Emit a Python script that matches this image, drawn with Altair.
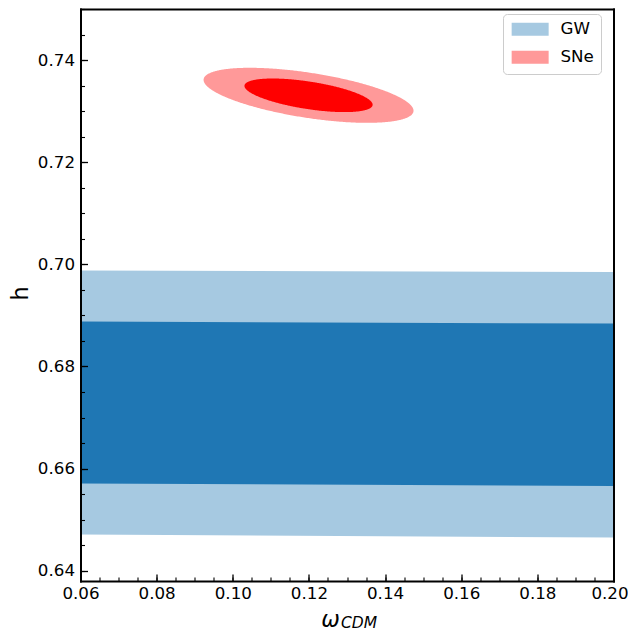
import numpy as np
import pandas as pd
import altair as alt

# ---------------- data ----------------
x_domain = [0.06, 0.20]
y_domain = [0.638, 0.750]
x_major = [0.06, 0.08, 0.10, 0.12, 0.14, 0.16, 0.18, 0.20]
y_major = [0.64, 0.66, 0.68, 0.70, 0.72, 0.74]
x_minor = [round(0.06 + 0.005 * i, 3) for i in range(29)]
y_minor = [round(0.64 + 0.005 * i, 3) for i in range(23)]

series = ["GW", "SNe"]

# GW: nearly horizontal 68% / 95% bands (values at both edges of the x range)
gw_omega = [0.06, 0.20]
gw_h_95_lo = [0.6471, 0.6465]
gw_h_95_hi = [0.6988, 0.6985]
gw_h_68_lo = [0.6571, 0.6566]
gw_h_68_hi = [0.6888, 0.6884]

# SNe: Gaussian constraint (mean, sigmas, correlation) -> 68% / 95% ellipses
sne_mean = [0.1199, 0.7331]
sne_sigma = [0.0111, 0.00217]
sne_rho = -0.56
dchi2_levels = [2.30, 6.17]   # 68%, 95% for 2 parameters

light_colors = ["#a6c9e1", "#ff9999"]
dark_colors = ["#1f77b4", "#ff0000"]

W, H = 533, 572
FONT = "DejaVu Sans"


def ellipse_band(k):
    t = np.linspace(0, np.pi, 241)
    u = np.sqrt(k) * np.cos(t)
    root = np.sqrt(np.clip((1 - sne_rho ** 2) * (k - u ** 2), 0, None))
    w_lo = sne_rho * u - root
    w_hi = sne_rho * u + root
    return pd.DataFrame({
        "omega": sne_mean[0] + u * sne_sigma[0],
        "h_lo": sne_mean[1] + w_lo * sne_sigma[1],
        "h_hi": sne_mean[1] + w_hi * sne_sigma[1],
        "series": "SNe",
    })


gw95 = pd.DataFrame({"omega": gw_omega, "h_lo": gw_h_95_lo, "h_hi": gw_h_95_hi, "series": "GW"})
gw68 = pd.DataFrame({"omega": gw_omega, "h_lo": gw_h_68_lo, "h_hi": gw_h_68_hi, "series": "GW"})
sne68 = ellipse_band(dchi2_levels[0])
sne95 = ellipse_band(dchi2_levels[1])

xs = alt.Scale(domain=x_domain, nice=False, zero=False)
ys = alt.Scale(domain=y_domain, nice=False, zero=False)

legend = alt.Legend(
    title=None, orient="none", legendX=422.5, legendY=5, direction="vertical",
    symbolType="M-2.846,-1H2.846V1H-2.846Z", symbolSize=169, symbolStrokeWidth=0,
    symbolOpacity=1, symbolOffset=11.8, labelOffset=22, labelFontSize=16.7,
    labelFont=FONT, labelColor="black", rowPadding=10, padding=7,
    strokeColor="#cccccc", fillColor="rgba(255,255,255,0.8)", cornerRadius=4,
)
color = alt.Color("series:N", scale=alt.Scale(domain=series, range=light_colors), legend=legend)

major_x = alt.Axis(orient="bottom", values=x_major, format=".2f", tickSize=7, tickWidth=1.3,
                   tickColor="black", offset=-7, domain=False, grid=False, labelPadding=4,
                   labelFlush=False, labelOverlap=False, labelFontSize=16.7, labelFont=FONT,
                   labelColor="black",
                   labelOffset={"condition": {"test": "datum.value > 0.199", "value": -4}, "value": 0},
                   title="ω", titleFont=FONT, titleFontSize=22.2,
                   titleFontStyle="italic", titleFontWeight="normal", titleColor="black",
                   titleX=249.5, titleY=52, titleAlign="center", titleBaseline="alphabetic",
                   zindex=1)
major_y = alt.Axis(orient="left", values=y_major, format=".2f", tickSize=7, tickWidth=1.3,
                   tickColor="black", offset=-7, domain=False, grid=False, labelPadding=6,
                   labelFlush=False, labelOverlap=False, labelFontSize=16.7, labelFont=FONT,
                   labelColor="black", title="h", titleFont=FONT, titleFontSize=22.2,
                   titleFontWeight="normal", titleColor="black", titleAngle=270,
                   titleX=-67.5, titleY=284, titleAlign="center", titleBaseline="middle",
                   zindex=1)
minor_x = alt.Axis(orient="bottom", values=x_minor, tickSize=4, tickWidth=1.1, tickColor="black",
                   offset=-4, labels=False, domain=False, grid=False, title=None, zindex=1)
minor_y = alt.Axis(orient="left", values=y_minor, tickSize=4, tickWidth=1.1, tickColor="black",
                   offset=-4, labels=False, domain=False, grid=False, title=None, zindex=1)


def frame_axis(orient):
    return alt.Axis(orient=orient, domain=True, domainWidth=2, domainColor="black",
                    domainCap="square", ticks=False, labels=False, grid=False, title=None,
                    zindex=2, offset=0)


l1 = alt.Chart(gw95).mark_area(opacity=1, clip=True).encode(
    x=alt.X("omega:Q", scale=xs, axis=major_x),
    y=alt.Y("h_lo:Q", scale=ys, axis=major_y),
    y2="h_hi:Q",
    color=color,
)
l2 = alt.Chart(gw68).mark_area(opacity=1, clip=True, color=dark_colors[0]).encode(
    x=alt.X("omega:Q", scale=xs, axis=minor_x),
    y=alt.Y("h_lo:Q", scale=ys, axis=minor_y),
    y2="h_hi:Q",
)
l3 = alt.Chart(sne95).mark_area(opacity=1, clip=True).encode(
    x=alt.X("omega:Q", scale=xs, axis=frame_axis("bottom")),
    y=alt.Y("h_lo:Q", scale=ys, axis=frame_axis("left")),
    y2="h_hi:Q",
    color=color,
)
l4 = alt.Chart(sne68).mark_area(opacity=1, clip=True, color=dark_colors[1]).encode(
    x=alt.X("omega:Q", scale=xs, axis=frame_axis("top")),
    y=alt.Y("h_lo:Q", scale=ys, axis=frame_axis("right")),
    y2="h_hi:Q",
)
# subscript of the x-axis title
sub = alt.Chart(pd.DataFrame({"t": ["CDM"]})).mark_text(
    font=FONT, fontSize=15.5, fontStyle="italic", align="left", baseline="alphabetic",
    color="black",
).encode(x=alt.value(260.5), y=alt.value(618.5), text="t:N")

chart = (
    alt.layer(l1, l2, l3, l4, sub)
    .resolve_scale(x="shared", y="shared", color="shared")
    .resolve_axis(x="independent", y="independent")
    .properties(width=W, height=H, autosize=alt.AutoSizeParams(type="none"),
                padding={"left": 72.5, "top": 1, "right": 14, "bottom": 54})
    .configure_view(stroke=None)
    .configure(font=FONT)
)

chart.save("out.html", embed_options={"renderer": "svg", "actions": False})
